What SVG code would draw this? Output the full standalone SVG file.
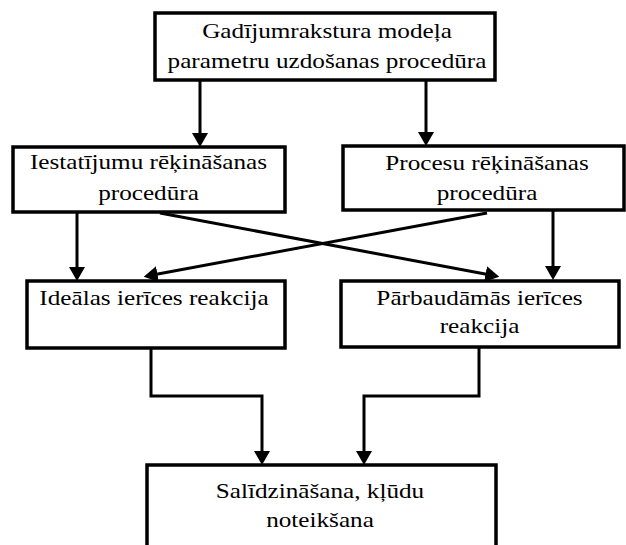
<svg xmlns="http://www.w3.org/2000/svg" width="626" height="545" viewBox="0 0 626 545">
  <style>
    .box { fill: #ffffff; stroke: #000000; stroke-width: 3.5; }
    .lbl { font-family: 'Liberation Serif', 'Times New Roman', serif; font-size: 21.5px; fill: #000000; text-anchor: middle; }
    .wire { fill: none; stroke: #000000; stroke-width: 3; }
  </style>
  <defs>
    <!-- filled arrowhead; the line stops at the head's base -->
    <marker id="head" markerUnits="userSpaceOnUse" markerWidth="14" markerHeight="16" refX="1" refY="8" orient="auto">
      <path d="M0,0 L14,8 L0,16 z" fill="#000000"/>
    </marker>
  </defs>
  <rect width="626" height="545" fill="#ffffff"/>

  <g id="connectors">
    <line class="wire" x1="200" y1="80" x2="200" y2="134" marker-end="url(#head)"/>
    <line class="wire" x1="426" y1="80" x2="426" y2="133" marker-end="url(#head)"/>
    <line class="wire" x1="77" y1="212" x2="77" y2="268" marker-end="url(#head)"/>
    <line class="wire" x1="553" y1="210" x2="553" y2="267" marker-end="url(#head)"/>
    <line class="wire" x1="160" y1="213" x2="486.5" y2="274.3" marker-end="url(#head)"/>
    <line class="wire" x1="487" y1="213" x2="156.5" y2="274.3" marker-end="url(#head)"/>
    <polyline class="wire" points="151,349 151,396 262,396 262,452" marker-end="url(#head)"/>
    <polyline class="wire" points="479,347 479,396 364,396 364,452" marker-end="url(#head)"/>
  </g>

  <!-- labels are set slightly wide: x-scale 1.172 around each box centre -->
  <g id="param-setup">
    <rect class="box" x="155" y="13" width="340" height="67"/>
    <g transform="translate(327 0) scale(1.172 1)">
      <text class="lbl" x="0" y="38">Gadījumrakstura modeļa</text>
      <text class="lbl" x="0" y="68">parametru uzdošanas procedūra</text>
    </g>
  </g>

  <g id="settings-calc">
    <rect class="box" x="13" y="147" width="272" height="65"/>
    <g transform="translate(148.5 0) scale(1.172 1)">
      <text class="lbl" x="0" y="169">Iestatījumu rēķināšanas</text>
      <text class="lbl" x="0" y="200">procedūra</text>
    </g>
  </g>

  <g id="process-calc">
    <rect class="box" x="343" y="146" width="281" height="64"/>
    <g transform="translate(487 0) scale(1.172 1)">
      <text class="lbl" x="0" y="170">Procesu rēķināšanas</text>
      <text class="lbl" x="0" y="200">procedūra</text>
    </g>
  </g>

  <g id="ideal-response">
    <rect class="box" x="27" y="281" width="258" height="67"/>
    <g transform="translate(154 0) scale(1.172 1)">
      <text class="lbl" x="0" y="305">Ideālas ierīces reakcija</text>
    </g>
  </g>

  <g id="tested-response">
    <rect class="box" x="341" y="281" width="278" height="66"/>
    <g transform="translate(479.5 0) scale(1.172 1)">
      <text class="lbl" x="0" y="305">Pārbaudāmās ierīces</text>
      <text class="lbl" x="0" y="333">reakcija</text>
    </g>
  </g>

  <g id="comparison">
    <rect class="box" x="147" y="465" width="349" height="90"/>
    <g transform="translate(320 0) scale(1.172 1)">
      <text class="lbl" x="0" y="498">Salīdzināšana, kļūdu</text>
      <text class="lbl" x="0" y="527">noteikšana</text>
    </g>
  </g>
</svg>
